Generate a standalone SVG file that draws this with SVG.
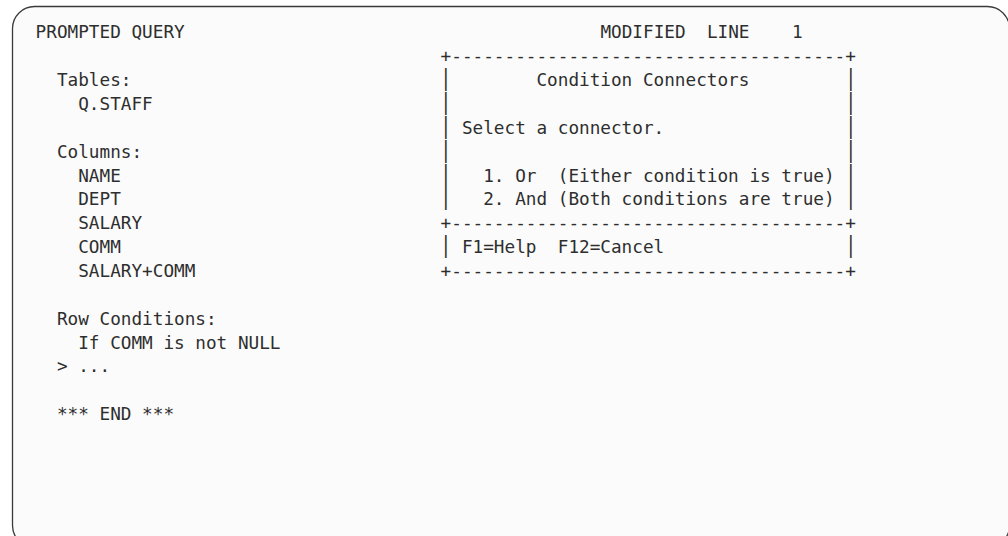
<svg xmlns="http://www.w3.org/2000/svg" width="1008" height="536" viewBox="0 0 1008 536">
<style>
text{font-family:"DejaVu Sans Mono","Liberation Mono",monospace;font-size:17.7px;fill:#2e2e2e;white-space:pre}
.bar{font-size:17.7px}
</style>
<rect x="0" y="0" width="1008" height="536" fill="#ffffff"/>
<g id="frame">
<rect x="12.5" y="6.5" width="997" height="541" rx="22" ry="22" fill="#fbfbfb" stroke="#3a3a3a" stroke-width="1.3"/>
</g>
<g id="header">
<text x="35.6" y="38.3" xml:space="preserve">PROMPTED QUERY</text>
<text x="600.4" y="38.3" xml:space="preserve">MODIFIED  LINE    1</text>
</g>
<g id="query-panel">
<text x="35.6" y="86" xml:space="preserve">  Tables:</text>
<text x="35.6" y="109.9" xml:space="preserve">    Q.STAFF</text>
<text x="35.6" y="157.6" xml:space="preserve">  Columns:</text>
<text x="35.6" y="181.5" xml:space="preserve">    NAME</text>
<text x="35.6" y="205.3" xml:space="preserve">    DEPT</text>
<text x="35.6" y="229.2" xml:space="preserve">    SALARY</text>
<text x="35.6" y="253.0" xml:space="preserve">    COMM</text>
<text x="35.6" y="276.9" xml:space="preserve">    SALARY+COMM</text>
<text x="35.6" y="324.6" xml:space="preserve">  Row Conditions:</text>
<text x="35.6" y="348.5" xml:space="preserve">    If COMM is not NULL</text>
<text x="35.6" y="372.3" xml:space="preserve">  &gt; ...</text>
<text x="35.6" y="420.0" xml:space="preserve">  *** END ***</text>
</g>
<g id="condition-connectors-popup">
<text x="440.6" y="62.2" xml:space="preserve">+-------------------------------------+</text>
<text x="440.6" y="86" xml:space="preserve">         Condition Connectors</text>
<text x="440.6" y="133.7" xml:space="preserve">  Select a connector.</text>
<text x="440.6" y="181.5" xml:space="preserve">    1. Or  (Either condition is true)</text>
<text x="440.6" y="205.3" xml:space="preserve">    2. And (Both conditions are true)</text>
<text x="440.6" y="229.2" xml:space="preserve">+-------------------------------------+</text>
<text x="440.6" y="253.0" xml:space="preserve">  F1=Help  F12=Cancel</text>
<text x="440.6" y="276.9" xml:space="preserve">+-------------------------------------+</text>
<g id="popup-bars">
<text class="bar" transform="matrix(1,0,0,1.33,440.6,86)">|</text>
<text class="bar" transform="matrix(1,0,0,1.33,845.6,86)">|</text>
<text class="bar" transform="matrix(1,0,0,1.33,440.6,109.9)">|</text>
<text class="bar" transform="matrix(1,0,0,1.33,845.6,109.9)">|</text>
<text class="bar" transform="matrix(1,0,0,1.33,440.6,133.7)">|</text>
<text class="bar" transform="matrix(1,0,0,1.33,845.6,133.7)">|</text>
<text class="bar" transform="matrix(1,0,0,1.33,440.6,157.6)">|</text>
<text class="bar" transform="matrix(1,0,0,1.33,845.6,157.6)">|</text>
<text class="bar" transform="matrix(1,0,0,1.33,440.6,181.5)">|</text>
<text class="bar" transform="matrix(1,0,0,1.33,845.6,181.5)">|</text>
<text class="bar" transform="matrix(1,0,0,1.33,440.6,205.3)">|</text>
<text class="bar" transform="matrix(1,0,0,1.33,845.6,205.3)">|</text>
<text class="bar" transform="matrix(1,0,0,1.33,440.6,253.0)">|</text>
<text class="bar" transform="matrix(1,0,0,1.33,845.6,253.0)">|</text>
</g>
</g>
</svg>
